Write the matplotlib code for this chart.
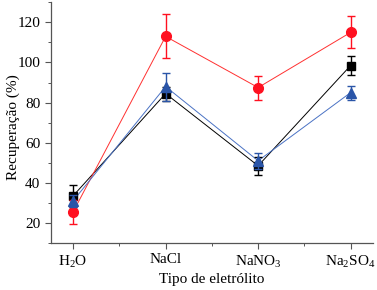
import matplotlib
matplotlib.use("Agg")
import matplotlib.pyplot as plt
from matplotlib.ticker import MultipleLocator

plt.rcParams['font.family'] = ['Liberation Serif', 'DejaVu Serif']
plt.rcParams['mathtext.fontset'] = 'custom'
plt.rcParams['mathtext.rm'] = 'Liberation Serif'

categories = ['H$_2$O', 'NaCl', 'NaNO$_3$', 'Na$_2$SO$_4$']

black_vals = [33.5, 84.5, 48.5, 98.5]
black_err = [5.5, 3.5, 4.5, 4.5]
red_vals = [25.5, 113.0, 87.5, 115.0]
red_err = [6.0, 11.0, 6.0, 8.0]
blue_vals = [31.0, 88.0, 51.0, 85.0]
blue_err = [3.0, 7.0, 4.0, 3.5]

x = list(range(len(categories)))

fig = plt.figure(figsize=(3.77, 2.90), dpi=100)
ax = fig.add_axes([0.135, 0.162, 0.854, 0.83])

# black squares
ax.plot(x, black_vals, color='black', lw=0.7, zorder=2)
ax.errorbar(x, black_vals, yerr=black_err, fmt='s', color='black', ms=6,
            capsize=3, elinewidth=1.0, capthick=1.0, zorder=3)
# red circles
ax.plot(x, red_vals, color='#ff3030', lw=0.7, zorder=2)
ax.errorbar(x, red_vals, yerr=red_err, fmt='o', color='#ff1020', ms=7,
            capsize=3, elinewidth=1.0, capthick=1.0, zorder=4)
# blue triangles
ax.plot(x, blue_vals, color='#4a72c4', lw=0.7, zorder=2)
ax.errorbar(x, blue_vals, yerr=blue_err, fmt='^', color='#2a55a8', ms=7,
            capsize=3, elinewidth=1.0, capthick=1.0, zorder=5)

ax.set_xlim(-0.24, 3.24)
ax.set_ylim(10, 130)
ax.set_xticks(x)
ax.set_xticklabels(categories)
ax.xaxis.set_minor_locator(MultipleLocator(0.5))
ax.yaxis.set_minor_locator(MultipleLocator(10))
ax.set_yticks([20, 40, 60, 80, 100, 120])

ax.spines['top'].set_visible(False)
ax.spines['right'].set_visible(False)
for s in ['left', 'bottom']:
    ax.spines[s].set_color('#555555')
    ax.spines[s].set_linewidth(0.9)

ax.tick_params(which='major', direction='out', length=4, width=0.8,
               colors='#555555', labelcolor='black', labelsize=11)
ax.tick_params(which='minor', direction='out', length=2, width=0.7, colors='#555555')

ax.set_xlabel('Tipo de eletrólito', fontsize=11, labelpad=2)
ax.set_ylabel('Recuperação (%)', fontsize=11)
ax.yaxis.set_label_coords(-0.095, 0.48)

fig.savefig('out.png', dpi=100)
